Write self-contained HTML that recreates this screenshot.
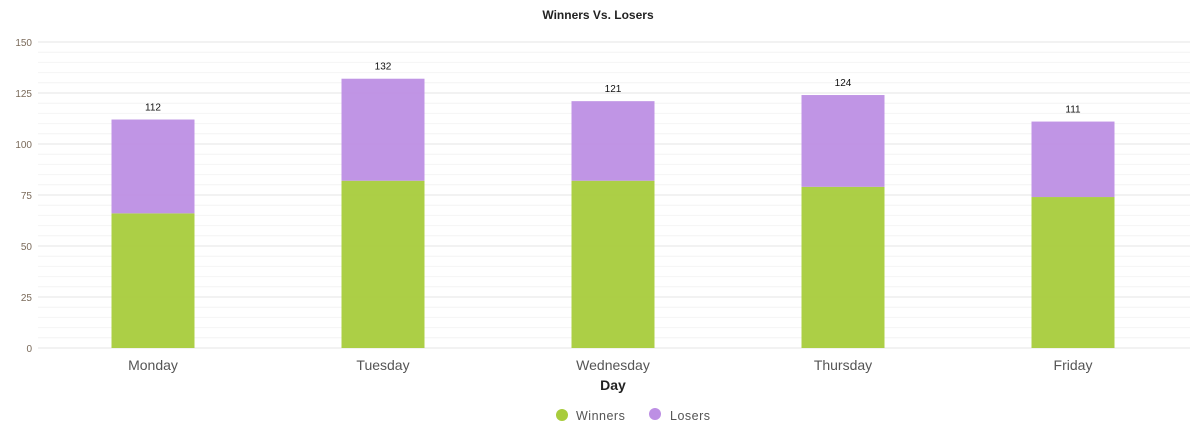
<!DOCTYPE html>
<html><head><meta charset="utf-8"><style>
body{margin:0;background:#fff;font-family:"Liberation Sans",sans-serif}
svg text{font-family:"Liberation Sans",sans-serif}
</style></head><body>
<svg id="chart" width="1196" height="441" xmlns="http://www.w3.org/2000/svg">
<text x="598" y="19" text-anchor="middle" font-size="12" font-weight="bold" fill="#222">Winners Vs. Losers</text>
<g id="grid"></g><g id="bars"></g><g id="labels"></g>
<text x="613" y="390" text-anchor="middle" font-size="14" font-weight="bold" fill="#222">Day</text>
<g>
<g><circle cx="562" cy="415" r="6" fill="#a8cc3c"/><text x="576" y="420" font-size="12.5" fill="#555" letter-spacing="0.5">Winners</text></g>
<g><circle cx="655" cy="414" r="6" fill="#bd8fe4"/><text x="670" y="420" font-size="12.5" fill="#555" letter-spacing="0.5">Losers</text></g>
</g>
</svg>
<script>
const categories=["Monday","Tuesday","Wednesday","Thursday","Friday"];
const winners=[66,82,82,79,74];
const losers=[46,50,39,45,37];
const totals=[112,132,121,124,111];
const yTicks=[0,25,50,75,100,125,150];
const NS="http://www.w3.org/2000/svg";
const x0=38,x1=1188,y0=348,y1=42,yMax=150;
const band=(x1-x0)/categories.length,bw=83;
const y=v=>y0-(v/yMax)*(y0-y1);
const xc=i=>x0+band*(i+0.5);
function mk(tag,attrs,parent){const e=document.createElementNS(NS,tag);for(const k in attrs)e.setAttribute(k,attrs[k]);parent.appendChild(e);return e;}
const grid=document.getElementById('grid'),bars=document.getElementById('bars'),labels=document.getElementById('labels');
for(let v=0;v<=yMax;v+=5){
  const major=v%25===0;
  const l=mk('line',{x1:x0,x2:x1+2,y1:y(v),y2:y(v),stroke:major?'#e6e6e6':'#f4f4f4','stroke-width':1},grid);
  
  
}
yTicks.forEach(v=>{
  const t=mk('text',{x:32,y:y(v)+4,'text-anchor':'end','font-size':10,fill:'#7a6a5a'},labels);
  t.textContent=v;
  
  
});
categories.forEach((c,i)=>{
  const cx=xc(i);
  const w=mk('rect',{x:cx-bw/2,y:y(winners[i]),width:bw,height:y0-y(winners[i]),fill:'#a8cc3c','fill-opacity':0.95},bars);
  
  
  const top=winners[i]+losers[i];
  const l=mk('rect',{x:cx-bw/2,y:y(top),width:bw,height:y(winners[i])-y(top),fill:'#bd8fe4','fill-opacity':0.95},bars);
  
  
  const tv=mk('text',{x:cx,y:y(top)-9,'text-anchor':'middle','font-size':10,fill:'#111'},labels);
  tv.textContent=totals[i];
  
  
  const xl=mk('text',{x:cx,y:370,'text-anchor':'middle','font-size':14,fill:'#555'},labels);
  xl.textContent=c;
  
  
});
</script>
</body></html>
